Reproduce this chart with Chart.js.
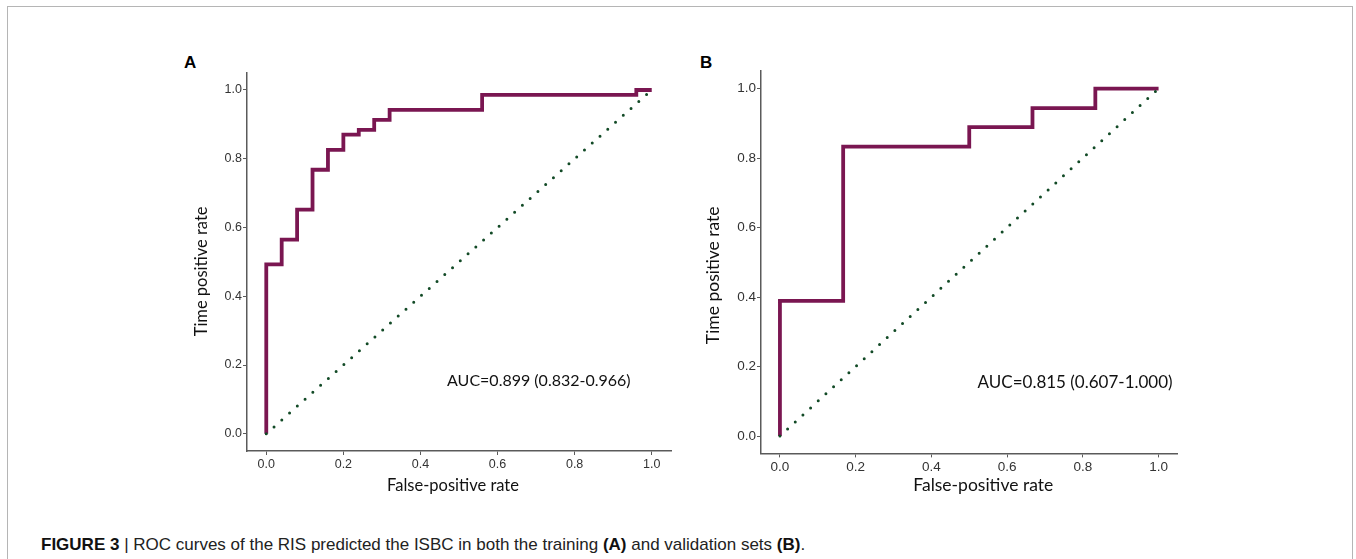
<!DOCTYPE html>
<html>
<head>
<meta charset="utf-8">
<script src="https://cdn.jsdelivr.net/npm/chart.js@4.4.1/dist/chart.umd.min.js"></script>
<style>
  body { margin: 0; background: #fff; width: 1356px; height: 559px; overflow: hidden; position: relative; }
  .frame { position: absolute; left: 7px; top: 6px; width: 1344px; height: 620px; border: 1.5px solid #b5b5b5; }
  canvas { position: absolute; }
  .panel { position: absolute; top: 53px; font: bold 17px "Liberation Sans", Arial, sans-serif; color: #000; }
  .caption { position: absolute; left: 41px; top: 535px; font-family: "Liberation Sans Narrow", "Liberation Sans", Arial, sans-serif; font-size: 17px; color: #222; white-space: nowrap; }
  .caption b { color: #111; }
</style>
</head>
<body>
<div class="frame"></div>
<div class="panel" style="left:184px">A</div>
<div class="panel" style="left:700px">B</div>
<canvas id="rocA" width="520" height="460" style="left:170px;top:50px"></canvas>
<canvas id="rocB" width="520" height="460" style="left:690px;top:50px"></canvas>
<div class="caption"><b>FIGURE 3</b> | ROC curves of the RIS predicted the ISBC in both the training <b>(A)</b> and validation sets <b>(B)</b>.</div>

<script>
// training set (A)
const fprA = [0, 0, 0.04, 0.08, 0.12, 0.16, 0.20, 0.24, 0.28, 0.32, 0.56, 0.96, 1.0];
const tprA = [0, 0.493, 0.565, 0.652, 0.768, 0.826, 0.870, 0.884, 0.913, 0.942, 0.986, 1.0, 1.0];

// validation set (B)
const fprB = [0, 0, 0.167, 0.5, 0.667, 0.833, 1.0];
const tprB = [0, 0.389, 0.833, 0.889, 0.944, 1.0, 1.0];

// chance line
const diagX = [0, 1];
const diagY = [0, 1];

const axisTicks = [0, 0.2, 0.4, 0.6, 0.8, 1.0];
const xTitle = 'False-positive rate';
const yTitle = 'Time positive rate';
const aucA = 'AUC=0.899 (0.832-0.966)';
const aucB = 'AUC=0.815 (0.607-1.000)';
// where the AUC text sits, in data units
const aucPosA = [0.469, 0.154];
const aucPosB = [0.522, 0.155];

const curveColor = '#7a1651';
const diagColor = '#124a26';
const axisColor = '#5a5a5a';
const textFont = 'Lato, "Open Sans", sans-serif';

// AUC note + axis titles (ggplot-style placement)
const roclabels = {
    id: 'roclabels',
    afterDatasetsDraw(chart, args, opts) {
        const ctx = chart.ctx;
        const area = chart.chartArea;
        ctx.save();
        ctx.fillStyle = '#111';
        ctx.textBaseline = 'middle';

        ctx.font = opts.aucSize + 'px ' + textFont;
        ctx.textAlign = 'left';
        ctx.fillText(opts.auc, chart.scales.x.getPixelForValue(opts.aucPos[0]), chart.scales.y.getPixelForValue(opts.aucPos[1]));

        ctx.font = opts.titleSize + 'px ' + textFont;
        ctx.textAlign = 'center';
        ctx.fillText(xTitle, (area.left + area.right) / 2 + opts.xTitle[0], opts.xTitle[1]);

        ctx.translate(opts.yTitle[0], (area.top + area.bottom) / 2 + opts.yTitle[1]);
        ctx.rotate(-Math.PI / 2);
        ctx.fillText(yTitle, 0, 0);
        ctx.restore();
    }
};

function toPoints(xs, ys) {
    return xs.map((x, i) => ({ x: x, y: ys[i] }));
}

function makeRoc(id, fpr, tpr, s) {
    const ctx = document.getElementById(id).getContext('2d');
    const tickOpts = { padding: 1, color: '#333', font: { family: '"Liberation Sans", Arial', size: s.tickSize }, callback: v => v.toFixed(1) };
    const gridOpts = { drawOnChartArea: false, drawTicks: true, tickLength: 4, tickColor: axisColor, tickWidth: 1 };
    return new Chart(ctx, {
        type: 'scatter',
        data: {
            datasets: [{
                data: toPoints(diagX, diagY),
                showLine: true,
                borderColor: diagColor,
                borderWidth: 3,
                borderCapStyle: 'round',
                borderDash: [0, 10.4],
                pointRadius: 0,
                order: 0
            }, {
                data: toPoints(fpr, tpr),
                showLine: true,
                stepped: 'before',
                borderColor: curveColor,
                borderWidth: 3.8,
                borderJoinStyle: 'miter',
                pointRadius: 0,
                order: 1
            }]
        },
        options: {
            responsive: false,
            animation: false,
            devicePixelRatio: 1,
            layout: { padding: s.pad },
            plugins: {
                legend: { display: false },
                tooltip: { enabled: false },
                roclabels: { auc: s.auc, aucPos: s.aucPos, aucSize: s.aucSize, titleSize: s.titleSize, xTitle: s.xTitle, yTitle: s.yTitle }
            },
            scales: {
                x: {
                    type: 'linear',
                    min: -0.05, max: 1.05,
                    afterFit: sc => { sc.height = 50; },
                    afterBuildTicks: sc => { sc.ticks = axisTicks.map(v => ({ value: v })); },
                    grid: gridOpts,
                    border: { display: true, color: axisColor, width: 1.5 },
                    ticks: Object.assign({}, tickOpts, { padding: 2 })
                },
                y: {
                    type: 'linear',
                    min: -0.05, max: 1.05,
                    afterFit: sc => { sc.width = s.yWidth; },
                    afterBuildTicks: sc => { sc.ticks = axisTicks.map(v => ({ value: v })); },
                    grid: gridOpts,
                    border: { display: true, color: axisColor, width: 1.5 },
                    ticks: tickOpts
                }
            }
        },
        plugins: [roclabels]
    });
}

makeRoc('rocA', fprA, tprA, {
    pad: { left: 0, top: 22.8, right: 19, bottom: 9 },
    yWidth: 77, tickSize: 12.5, titleSize: 16.5,
    xTitle: [-6, 436], yTitle: [31.5, 9.5],
    auc: aucA, aucPos: aucPosA, aucSize: 16
});

makeRoc('rocB', fprB, tprB, {
    pad: { left: 0, top: 21.2, right: 32.5, bottom: 6.6 },
    yWidth: 71, tickSize: 13.5, titleSize: 17.5,
    xTitle: [14, 435], yTitle: [23, 13],
    auc: aucB, aucPos: aucPosB, aucSize: 17
});
</script>
</body>
</html>
